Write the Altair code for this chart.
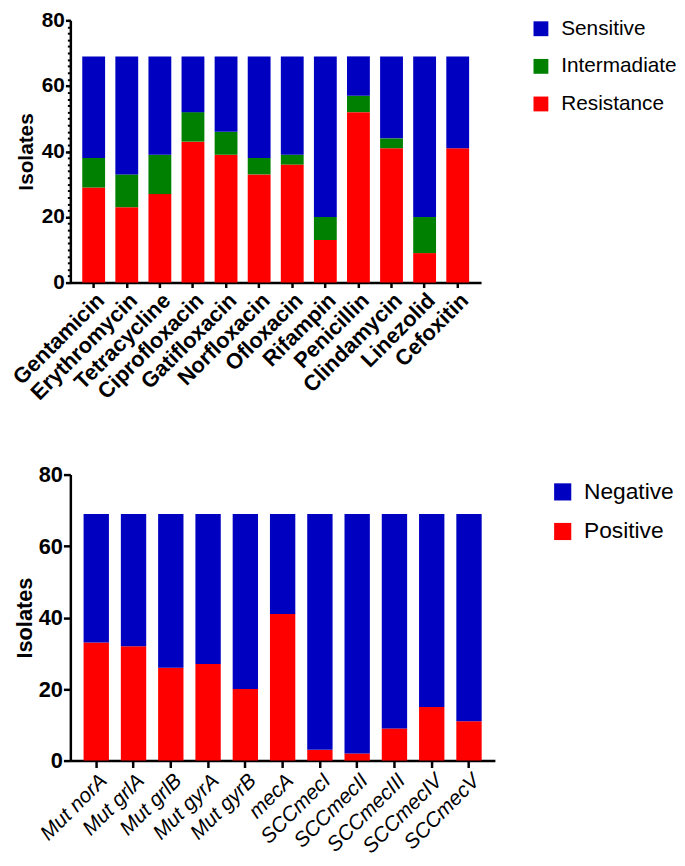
import altair as alt
import pandas as pd

FONT = "Liberation Sans"

# ---- top panel data ----
antibiotics = ["Gentamicin", "Erythromycin", "Tetracycline", "Ciprofloxacin", "Gatifloxacin",
               "Norfloxacin", "Ofloxacin", "Rifampin", "Penicillin", "Clindamycin",
               "Linezolid", "Cefoxitin"]
resistance = [29, 23, 27, 43, 39, 33, 36, 13, 52, 41, 9, 41]
intermediate = [9, 10, 12, 9, 7, 5, 3, 7, 5, 3, 11, 0]
sensitive = [31, 36, 30, 17, 23, 31, 30, 49, 12, 25, 49, 28]
top_status = ["Sensitive", "Intermadiate", "Resistance"]
top_colors = ["#0000C0", "#008000", "#FF0000"]

# ---- bottom panel data ----
genes = ["Mut norA", "Mut grlA", "Mut grlB", "Mut gyrA", "Mut gyrB", "mecA",
         "SCCmecI", "SCCmecII", "SCCmecIII", "SCCmecIV", "SCCmecV"]
positive = [33, 32, 26, 27, 20, 41, 3, 2, 9, 15, 11]
negative = [36, 37, 43, 42, 49, 28, 66, 67, 60, 54, 58]
bottom_status = ["Negative", "Positive"]
bottom_colors = ["#0000C0", "#FF0000"]

y_ticks = [0, 20, 40, 60, 80]
minor_ticks = list(range(0, 81, 2))

rows = []
for i, d in enumerate(antibiotics):
    rows.append({"cat": d, "status": "Resistance", "value": resistance[i], "ord": 0})
    rows.append({"cat": d, "status": "Intermadiate", "value": intermediate[i], "ord": 1})
    rows.append({"cat": d, "status": "Sensitive", "value": sensitive[i], "ord": 2})
df_top = pd.DataFrame(rows)

rows = []
for i, g in enumerate(genes):
    rows.append({"cat": g, "status": "Positive", "value": positive[i], "ord": 0})
    rows.append({"cat": g, "status": "Negative", "value": negative[i], "ord": 1})
df_bot = pd.DataFrame(rows)


def yaxis(fs, tick, tpad):
    return alt.Axis(values=y_ticks, title="Isolates", grid=False,
                    labelFont=FONT, labelFontSize=fs, labelFontWeight="bold", labelColor="black",
                    labelPadding=1, tickSize=tick, tickWidth=2.5, tickColor="black",
                    domainColor="black", domainWidth=2.5,
                    titleFont=FONT, titleFontSize=fs, titleFontWeight="bold", titleColor="black",
                    titlePadding=tpad)


def xaxis(fs, weight, style, tick):
    return alt.Axis(title=None, labelAngle=-45, grid=False,
                    labelFont=FONT, labelFontSize=fs, labelFontWeight=weight, labelFontStyle=style,
                    labelColor="black", labelPadding=2, labelLimit=300,
                    tickSize=tick, tickWidth=2.5, tickColor="black",
                    domainColor="black", domainWidth=2.5)


def legend(x, y, sym, fs, rp):
    return alt.Legend(title=None, orient="none", legendX=x, legendY=y, padding=0,
                      symbolType="square", symbolSize=sym, symbolStrokeWidth=0, symbolOpacity=1,
                      labelFont=FONT, labelFontSize=fs, labelColor="black", labelOffset=10,
                      rowPadding=rp, labelLimit=300)


top_bars = alt.Chart(df_top).mark_bar().encode(
    x=alt.X("cat:N", sort=antibiotics, scale=alt.Scale(paddingInner=0.31, paddingOuter=0.36),
            axis=xaxis(22, "bold", "normal", 5)),
    y=alt.Y("value:Q", stack="zero", scale=alt.Scale(domain=[0, 80], nice=False), axis=yaxis(21, 5, 5)),
    color=alt.Color("status:N", scale=alt.Scale(domain=top_status, range=top_colors),
                    legend=legend(465, -2, 225, 21, 16)),
    order=alt.Order("ord:Q", sort="ascending"),
)

top_minor = alt.Chart(df_top).mark_point(opacity=0).encode(
    y=alt.Y("value:Q", scale=alt.Scale(domain=[0, 80], nice=False),
            axis=alt.Axis(orient="left", values=minor_ticks, labels=False, domain=False, grid=False,
                          title=None, tickSize=3, tickWidth=2, tickColor="black")),
)

top = alt.layer(top_bars, top_minor).resolve_axis(y="independent").properties(width=415, height=265)

bottom = alt.Chart(df_bot).mark_bar().encode(
    x=alt.X("cat:N", sort=genes, scale=alt.Scale(paddingInner=0.32, paddingOuter=0.355),
            axis=xaxis(21, "normal", "italic", 7)),
    y=alt.Y("value:Q", stack="zero", scale=alt.Scale(domain=[0, 80], nice=False), axis=yaxis(22, 7, 2)),
    color=alt.Color("status:N", scale=alt.Scale(domain=bottom_status, range=bottom_colors),
                    legend=legend(486, 6, 300, 23, 16)),
    order=alt.Order("ord:Q", sort="ascending"),
).properties(width=429, height=289)

chart = alt.vconcat(top, bottom, spacing=60).resolve_scale(color="independent").properties(
    padding={"left": 0, "top": -3, "right": 0, "bottom": 0}
).configure_view(stroke=None)

chart.save("out.html", embed_options={"renderer": "svg", "actions": False})
